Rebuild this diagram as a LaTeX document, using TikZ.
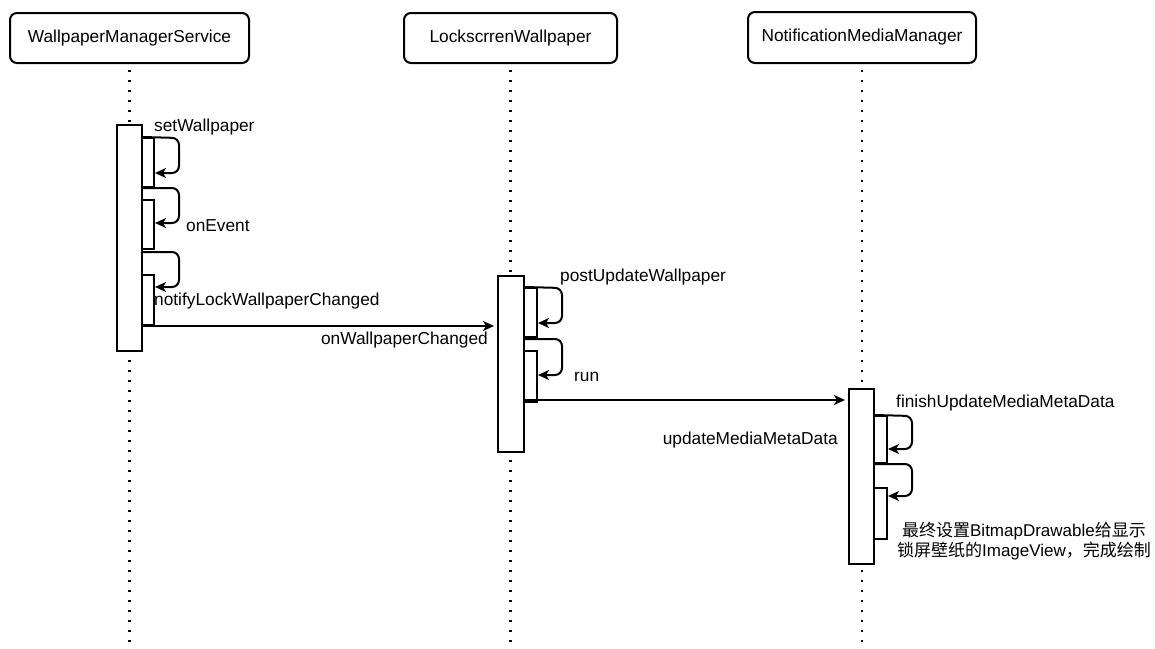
\documentclass[tikz,border=0pt]{standalone}
\usepackage{fontspec}
\setmainfont{Liberation Sans}
\newfontfamily\cjk{Noto Sans CJK SC}
\usetikzlibrary{arrows.meta}
\begin{document}
\begin{tikzpicture}[x=1pt,y=-1pt,
  every node/.style={font=\fontsize{17.3}{20}\selectfont},
  head/.style={draw,line width=2,rounded corners=7,inner sep=0},
  life/.style={line width=2.2,dash pattern=on 2.2 off 7.8},
  bar/.style={draw,fill=white,line width=2,inner sep=0,minimum width=25},
  sub/.style={draw,fill=white,line width=2,inner sep=0,minimum width=13},
  msg/.style={line width=2,-{Stealth[length=11,width=10,inset=3]}},
  selfloop/.style={line width=2,rounded corners=7,-{Stealth[length=11,width=10,inset=3]}},
  lbl/.style={anchor=west,inner sep=0,text height=12.5,text depth=3.5}]
\useasboundingbox (0,0) rectangle (1155,648);
% heads
\node[head,minimum width=239,minimum height=50] (h1) at (129.5,38) {WallpaperManagerService};
\node[head,minimum width=213,minimum height=50] (h2) at (510.5,38) {LockscrrenWallpaper};
\node[head,minimum width=228,minimum height=51] (h3) at (862,37.5) {NotificationMediaManager};
\coordinate (e1) at (129.5,648);
\coordinate (e2) at (510.5,648);
\coordinate (e3) at (862,648);
\draw[life] ([yshift=-6]h1.south) -- (e1);
\draw[life] ([yshift=-6]h2.south) -- (e2);
\draw[life] ([yshift=-6]h3.south) -- (e3);
% WMS activations
\node[bar,minimum height=226] (w) at (129.5,238) {};
\node[sub,minimum height=49,minimum width=12] (a1) at (148,162.5) {};
\node[sub,minimum height=49,minimum width=12] (a2) at (148,224.5) {};
\node[sub,minimum height=50,minimum width=12] (a3) at (148,300) {};
\draw[selfloop] (w.east |- a1.north) -- (179,138) -- (179,173) -- (a1.east |- 0,173);
\draw[selfloop] (w.east |- 0,188) -- (179,188) -- (179,223) -- (a1.east |- 0,223);
\draw[selfloop] (w.east |- 0,252) -- (179,252) -- (179,287) -- (a2.east |- 0,287);
\node[lbl] (t1) at (154,127) {setWallpaper};
\node[lbl] (t2) at (186,227) {onEvent};
\node[lbl] (t3) at (154,301) {notifyLockWallpaperChanged};
% LW activations
\node[bar,minimum height=176,minimum width=26] (l) at (511,364) {};
\node[sub,minimum height=49] (b1) at (530.5,312.5) {};
\node[sub,minimum height=51] (b2) at (530.5,376.5) {};
\draw[msg] (w.east |- a3.south) -- ([xshift=-3]l.west |- a3.south);
\node[lbl,anchor=east] (t4) at (488,340) {onWallpaperChanged};
\draw[selfloop] (l.east |- b1.north) -- (562,288) -- (562,323) -- (b1.east |- 0,323);
\draw[selfloop] (l.east |- 0,339) -- (562,339) -- (562,375) -- (b2.east |- 0,375);
\node[lbl] (t5) at (560,277) {postUpdateWallpaper};
\node[lbl] (t6) at (574,377) {run};
% NMM activations
\node[bar,minimum height=175] (n) at (861.5,476.5) {};
\node[sub,minimum height=47] (c1) at (880.5,439.5) {};
\node[sub,minimum height=51] (c2) at (880.5,513.5) {};
\draw[msg] ([yshift=3]l.east |- b2.south) -- ([xshift=-3,yshift=3]n.west |- b2.south);
\node[lbl,anchor=east] (t7) at (838,440) {updateMediaMetaData};
\draw[selfloop] (n.east |- c1.north) -- (912,416) -- (912,449) -- (c1.east |- 0,449);
\draw[selfloop] (n.east |- 0,464) -- (912,464) -- (912,496) -- (c1.east |- 0,496);
\node[lbl] (t8) at (896,403) {finishUpdateMediaMetaData};
\node[align=center,inner sep=0,font=\fontsize{17}{19.5}\selectfont] (t9) at (1024,541)
  {{\cjk 最终设置}BitmapDrawable{\cjk 给显示}\\{\cjk 锁屏壁纸的}ImageView{\cjk ，完成绘制}};
\end{tikzpicture}
\end{document}
